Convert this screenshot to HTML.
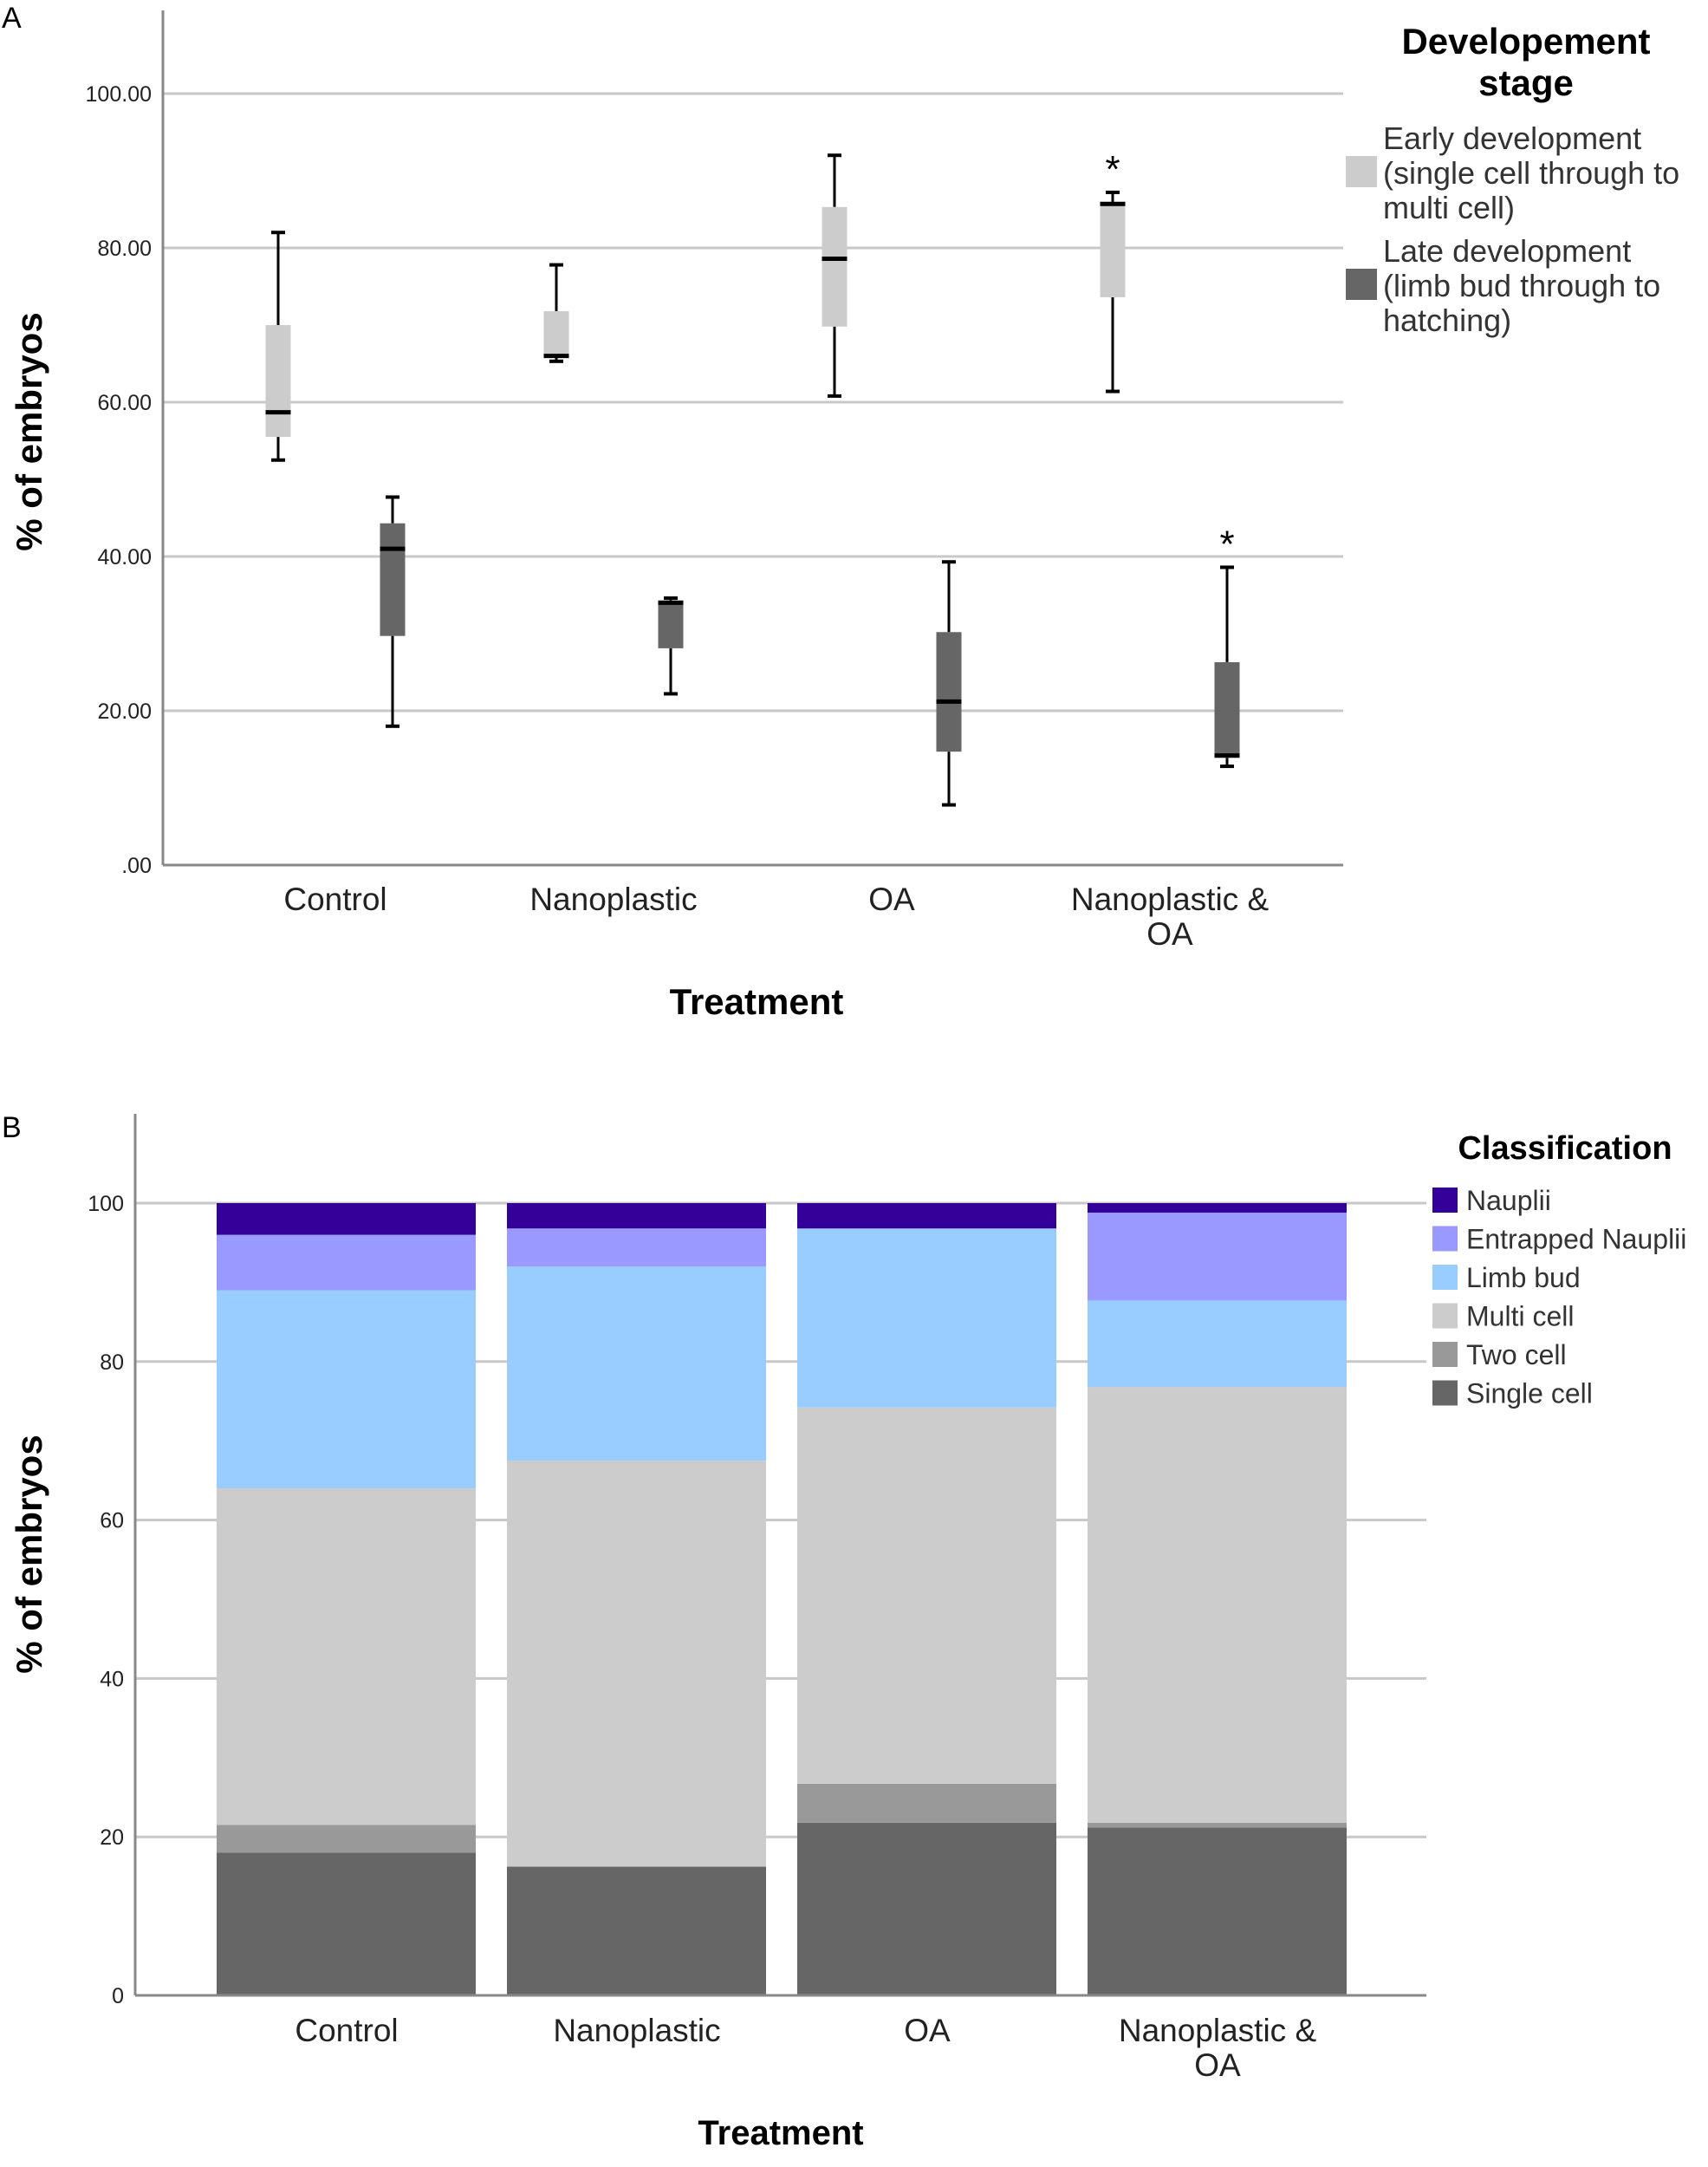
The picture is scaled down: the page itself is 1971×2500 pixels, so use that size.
<!DOCTYPE html>
<html><head><meta charset="utf-8"><style>
html,body{margin:0;padding:0;background:#fff;}
svg{display:block;font-family:"Liberation Sans",Arial,sans-serif;}
</style></head><body>
<svg id="chart" width="1971" height="2500" viewBox="0 0 1971 2500" xmlns="http://www.w3.org/2000/svg">
<rect width="1971" height="2500" fill="#fff"/>
<g id="pa"></g>
<g id="pb"></g>
</svg>
<script>
// Panel A data
const categoriesA = ["Control","Nanoplastic","OA","Nanoplastic & OA"];
const earlyMin = [52.5,65.3,60.8,61.4];
const earlyQ1 = [55.5,65.8,69.8,73.6];
const earlyMed = [58.7,66.0,78.6,85.7];
const earlyQ3 = [70.0,71.8,85.3,85.7];
const earlyMax = [82.0,77.8,92.0,87.2];
const lateMin = [18.0,22.2,7.8,12.8];
const lateQ1 = [29.7,28.1,14.7,13.9];
const lateMed = [41.0,34.0,21.2,14.2];
const lateQ3 = [44.3,34.3,30.2,26.3];
const lateMax = [47.7,34.6,39.3,38.6];
const ticksA = [0,20,40,60,80,100];
const tickLabelsA = [".00","20.00","40.00","60.00","80.00","100.00"];
// Panel B data
const categoriesB = ["Control","Nanoplastic","OA","Nanoplastic & OA"];
const seriesB = ["Single cell","Two cell","Multi cell","Limb bud","Entrapped Nauplii","Nauplii"];
const singleCell = [18.0,16.2,21.8,21.2];
const twoCell = [3.5,0.1,4.9,0.6];
const multiCell = [42.5,51.2,47.5,55.0];
const limbBud = [25.0,24.5,22.6,10.9];
const entrapped = [7.0,4.8,0.0,11.1];
const nauplii = [4.0,3.2,3.2,1.2];
const ticksB = [0,20,40,60,80,100];

const NS="http://www.w3.org/2000/svg";
function mk(parent,tag,attrs,text){const e=document.createElementNS(NS,tag);for(const k in attrs)e.setAttribute(k,attrs[k]);if(text!==undefined)e.textContent=text;parent.appendChild(e);return e;}

// ---------- Panel A ----------
const pa=document.getElementById('pa');
const yA=v=>998-v*8.9;
const xA=i=>387+i*321;
let t=mk(pa,'text',{x:2,y:32,'font-size':34});t.textContent='A';


ticksA.forEach((v,i)=>{
  if(v>0){const g=mk(pa,'line',{x1:188,x2:1550,y1:yA(v),y2:yA(v),stroke:'#c8c8c8','stroke-width':3});
  
  }
  const l=mk(pa,'text',{x:175,y:yA(v)+9,'font-size':25,'text-anchor':'end',fill:'#222'},tickLabelsA[i]);
  
  
});
let ax=mk(pa,'line',{x1:188,x2:188,y1:12,y2:998,stroke:'#888','stroke-width':3});


ax=mk(pa,'line',{x1:188,x2:1550,y1:998,y2:998,stroke:'#888','stroke-width':3});


function box(i,off,mn,q1,md,q3,mx,fill,name){
  const cx=xA(i)+off, w=29;
  const g=mk(pa,'g',{});
  
  
  mk(g,'line',{x1:cx,x2:cx,y1:yA(mx),y2:yA(q3),stroke:'#000','stroke-width':3});
  mk(g,'line',{x1:cx,x2:cx,y1:yA(q1),y2:yA(mn),stroke:'#000','stroke-width':3});
  mk(g,'line',{x1:cx-8,x2:cx+8,y1:yA(mx),y2:yA(mx),stroke:'#000','stroke-width':4});
  mk(g,'line',{x1:cx-8,x2:cx+8,y1:yA(mn),y2:yA(mn),stroke:'#000','stroke-width':4});
  mk(g,'rect',{x:cx-w/2,y:yA(q3),width:w,height:Math.max(2,yA(q1)-yA(q3)),fill:fill});
  mk(g,'line',{x1:cx-w/2,x2:cx+w/2,y1:yA(md),y2:yA(md),stroke:'#000','stroke-width':5});
}
categoriesA.forEach((c,i)=>{
  box(i,-66,earlyMin[i],earlyQ1[i],earlyMed[i],earlyQ3[i],earlyMax[i],'#cccccc','box-early-'+i);
  box(i,66,lateMin[i],lateQ1[i],lateMed[i],lateQ3[i],lateMax[i],'#666666','box-late-'+i);
  const parts=c==="Nanoplastic & OA"?["Nanoplastic &","OA"]:[c];
  parts.forEach((p,j)=>{const l=mk(pa,'text',{x:xA(i)+(j?0:0),y:1050+j*40,'font-size':37,'text-anchor':'middle',fill:'#222'},p);
  
  });
});
t=mk(pa,'text',{x:xA(3)-66,y:yA(earlyMax[3])-12,'font-size':44,'text-anchor':'middle'},'*');


t=mk(pa,'text',{x:xA(3)+66,y:yA(lateMax[3])-12,'font-size':44,'text-anchor':'middle'},'*');


t=mk(pa,'text',{x:873,y:1170,'font-size':42,'font-weight':'bold','text-anchor':'middle'},'Treatment');


t=mk(pa,'text',{x:0,y:0,'font-size':42,'font-weight':'bold','text-anchor':'middle',transform:'translate(48,498) rotate(-90)'},'% of embryos');


t=mk(pa,'text',{x:1761,y:62,'font-size':42,'font-weight':'bold','text-anchor':'middle'},'Developement');


mk(pa,'text',{x:1761,y:110,'font-size':42,'font-weight':'bold','text-anchor':'middle'},'stage');
const legA=[["#cccccc",180,["Early development","(single cell through to","multi cell)"]],["#666666",310,["Late development","(limb bud through to","hatching)"]]];
legA.forEach(([c,y,lines])=>{
  const r=mk(pa,'rect',{x:1553,y:y,width:36,height:36,fill:c});
  
  
  lines.forEach((s,j)=>{const l=mk(pa,'text',{x:1596,y:y-8+j*40,'font-size':36,fill:'#333'},s);
  
  });
});

// ---------- Panel B ----------
const pb=document.getElementById('pb');
const yB=v=>2302-v*9.14;
const xB=i=>250+i*335;
t=mk(pb,'text',{x:2,y:1312,'font-size':34});t.textContent='B';


ticksB.forEach(v=>{
  if(v>0){const g=mk(pb,'line',{x1:156,x2:1646,y1:yB(v),y2:yB(v),stroke:'#c8c8c8','stroke-width':3});
  
  }
  const l=mk(pb,'text',{x:143,y:yB(v)+9,'font-size':25,'text-anchor':'end',fill:'#222'},String(v));
  
  
});
const colorsB=["#666666","#999999","#cccccc","#99ccff","#9999ff","#330099"];
const seriesVals=[singleCell,twoCell,multiCell,limbBud,entrapped,nauplii];
categoriesB.forEach((c,i)=>{
  let base=0;
  seriesVals.forEach((arr,s)=>{
    const v=arr[i];
    const r=mk(pb,'rect',{x:xB(i),y:yB(base+v),width:299,height:yB(base)-yB(base+v),fill:colorsB[s]});
    
    
    base+=v;
  });
  const parts=c==="Nanoplastic & OA"?["Nanoplastic &","OA"]:[c];
  parts.forEach((p,j)=>{const l=mk(pb,'text',{x:xB(i)+150,y:2355+j*40,'font-size':37,'text-anchor':'middle',fill:'#222'},p);
  
  });
});
ax=mk(pb,'line',{x1:156,x2:156,y1:1285,y2:2302,stroke:'#888','stroke-width':3});


ax=mk(pb,'line',{x1:156,x2:1646,y1:2302,y2:2302,stroke:'#888','stroke-width':3});


t=mk(pb,'text',{x:901,y:2474,'font-size':40,'font-weight':'bold','text-anchor':'middle'},'Treatment');


t=mk(pb,'text',{x:0,y:0,'font-size':42,'font-weight':'bold','text-anchor':'middle',transform:'translate(48,1793) rotate(-90)'},'% of embryos');


t=mk(pb,'text',{x:1806,y:1337,'font-size':38,'font-weight':'bold','text-anchor':'middle'},'Classification');


for(let k=0;k<6;k++){
  const s=5-k;
  const y=1370+k*44.5;
  const r=mk(pb,'rect',{x:1653,y:y,width:29,height:29,fill:colorsB[s]});
  
  
  const l=mk(pb,'text',{x:1692,y:y+26,'font-size':32,fill:'#333'},seriesB[s]);
  
  
}
</script>
</body></html>
